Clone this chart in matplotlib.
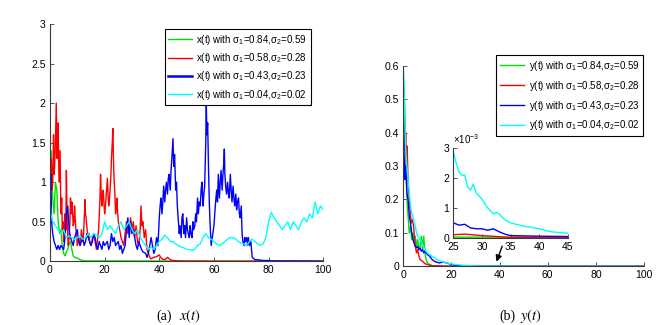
import matplotlib
matplotlib.use("Agg")
import matplotlib.pyplot as plt
import numpy as np

plt.rcParams['font.family'] = ['Liberation Sans', 'DejaVu Sans']
plt.rcParams['mathtext.fontset'] = 'custom'
plt.rcParams['mathtext.rm'] = 'Liberation Sans'
plt.rcParams['mathtext.it'] = 'Liberation Sans:italic'

# ---- x(t) paths, (t, value) ----
x_green = [(0, 0.6), (0.3, 1.4), (0.6, 1.1), (1, 0.8), (1.5, 0.6), (2, 1.0), (2.5, 0.9), (3, 0.5), (3.5, 0.35),
           (4, 0.4), (4.5, 0.2), (5, 0.1), (5.5, 0.07), (6, 0.12), (6.5, 0.15), (7, 0.22), (7.5, 0.25),
           (8, 0.15), (8.5, 0.07), (9, 0.05), (10, 0.04), (11, 0.02), (12, 0.01), (13, 0.005), (100, 0.0)]

x_red = [(0, 0.8), (0.3, 1.1), (0.5, 1.3), (0.8, 0.9), (1, 1.0), (1.3, 1.6), (1.5, 1.1), (1.7, 1.2), (2, 1.5),
         (2.3, 2.0), (2.6, 1.3), (2.8, 1.5), (3, 1.75), (3.3, 1.0), (3.5, 1.2), (3.7, 1.4), (4, 0.6), (4.3, 0.8),
         (4.5, 0.4), (4.8, 0.5), (5, 0.25), (5.3, 0.35), (5.5, 0.6), (5.8, 0.4), (6, 1.15), (6.3, 0.5),
         (6.5, 0.3), (6.7, 0.2), (7, 0.3), (7.3, 0.5), (7.5, 0.8), (7.8, 0.6), (8, 0.75), (8.3, 0.6),
         (8.5, 0.45), (8.8, 0.5), (9, 0.7), (9.3, 0.5), (9.5, 0.4), (9.8, 0.3), (10, 0.2), (10.3, 0.25),
         (10.5, 0.3), (11, 0.2), (11.3, 0.3), (11.5, 0.4), (12, 0.25), (12.3, 0.35), (12.5, 0.5), (12.8, 0.78),
         (13, 0.6), (13.2, 0.55), (13.6, 0.4), (14, 0.3), (14.3, 0.35), (14.5, 0.25), (15, 0.2), (15.5, 0.28),
         (16, 0.35), (16.5, 0.25), (17, 0.15), (17.5, 0.3), (17.8, 0.4), (18, 0.55), (18.3, 0.8), (18.5, 1.1),
         (18.8, 0.8), (19, 0.7), (19.3, 0.85), (19.5, 0.9), (19.8, 0.7), (20, 0.6), (20.3, 0.7), (20.5, 0.8),
         (20.8, 0.95), (21, 1.05), (21.3, 0.8), (21.5, 0.7), (21.8, 0.8), (22, 0.9), (22.3, 1.1), (22.5, 1.3),
         (22.8, 1.5), (23, 1.68), (23.3, 1.2), (23.5, 1.0), (23.7, 0.9), (24, 0.6), (24.3, 0.7), (24.5, 0.8),
         (24.8, 0.6), (25, 0.5), (25.5, 0.4), (26, 0.3), (26.5, 0.25), (27, 0.2), (27.5, 0.35), (28, 0.5),
         (28.5, 0.35), (29, 0.4), (29.5, 0.55), (30, 0.4), (30.5, 0.5), (31, 0.3), (31.5, 0.45), (32, 0.25),
         (32.5, 0.2), (33, 0.4), (33.3, 0.7), (33.7, 0.45), (34, 0.5), (34.5, 0.3), (35, 0.4), (35.5, 0.15),
         (36, 0.1), (36.5, 0.05), (37, 0.03), (38, 0.05), (39, 0.06), (40, 0.08), (40.5, 0.05), (41, 0.03),
         (42, 0.02), (43, 0.05), (44, 0.02), (45, 0.01), (47, 0.005), (50, 0.003), (60, 0.002), (100, 0.001)]

x_blue = [(0, 0.8), (0.3, 1.1), (0.6, 0.5), (1, 0.35), (1.5, 0.25), (2, 0.2), (2.5, 0.15), (3, 0.2), (3.5, 0.15),
          (4, 0.2), (5, 0.15), (5.5, 0.3), (6, 0.6), (6.5, 0.7), (7, 0.4), (7.5, 0.3), (8, 0.25), (8.5, 0.2),
          (9, 0.3), (9.5, 0.35), (10, 0.4), (10.5, 0.25), (11, 0.2), (12, 0.3), (12.5, 0.2), (13, 0.25),
          (13.5, 0.35), (14, 0.3), (15, 0.2), (15.5, 0.25), (16, 0.35), (16.5, 0.3), (17, 0.2), (17.5, 0.15),
          (18, 0.25), (18.5, 0.2), (19, 0.15), (19.5, 0.25), (20, 0.2), (21, 0.25), (21.5, 0.15), (22, 0.2),
          (22.5, 0.35), (23, 0.25), (23.5, 0.3), (24, 0.2), (25, 0.25), (25.5, 0.15), (26, 0.2), (26.5, 0.1),
          (27, 0.15), (27.5, 0.2), (28, 0.4), (28.5, 0.55), (29, 0.3), (29.5, 0.5), (30, 0.35), (30.5, 0.4),
          (31, 0.3), (31.5, 0.2), (32, 0.15), (32.5, 0.25), (33, 0.2), (33.5, 0.15), (34, 0.12), (35, 0.1),
          (35.5, 0.05), (36, 0.1), (36.5, 0.2), (37, 0.3), (37.5, 0.2), (38, 0.1), (38.5, 0.15), (39, 0.3),
          (39.5, 0.2), (40, 0.55), (40.3, 0.7), (40.6, 0.8), (41, 0.6), (41.3, 0.75), (41.6, 0.95), (42, 0.75),
          (42.3, 0.9), (42.6, 1.0), (43, 0.85), (43.3, 1.05), (43.6, 1.1), (44, 0.9), (44.3, 1.15), (44.6, 1.3),
          (45, 1.55), (45.3, 1.2), (45.6, 1.35), (46, 0.9), (46.3, 1.0), (46.6, 0.7), (47, 0.5), (47.3, 0.35),
          (47.6, 0.45), (48, 0.3), (48.3, 0.55), (48.6, 0.6), (49, 0.35), (49.3, 0.45), (49.6, 0.3), (50, 0.55),
          (50.3, 0.4), (50.6, 0.35), (51, 0.3), (51.3, 0.45), (51.6, 0.35), (52, 0.3), (52.3, 0.5), (52.6, 0.4),
          (53, 0.45), (53.3, 0.6), (53.6, 0.5), (54, 0.8), (54.3, 0.6), (54.6, 0.75), (55, 0.7), (55.3, 0.9),
          (55.6, 1.0), (56, 0.7), (56.3, 0.85), (56.6, 0.95), (57, 1.5), (57.2, 2.0), (57.4, 1.6), (57.7, 1.75),
          (58, 1.2), (58.3, 0.75), (58.6, 0.45), (59, 0.2), (59.3, 0.28), (59.6, 0.35), (60, 0.45), (60.3, 0.6),
          (60.6, 0.75), (61, 0.9), (61.3, 0.75), (61.6, 1.1), (62, 0.8), (62.3, 1.0), (62.6, 1.15), (63, 0.9),
          (63.3, 1.1), (63.6, 1.25), (63.8, 1.42), (64, 1.1), (64.3, 0.95), (64.6, 0.85), (65, 1.0), (65.3, 0.85),
          (65.6, 0.8), (66, 1.1), (66.3, 0.9), (66.6, 0.75), (67, 0.95), (67.3, 0.8), (67.6, 0.7), (68, 0.85),
          (68.3, 0.65), (68.6, 0.75), (69, 0.8), (69.3, 0.6), (69.6, 0.55), (70, 0.7), (70.3, 0.35), (70.6, 0.25),
          (71, 0.2), (71.3, 0.3), (71.6, 0.25), (72, 0.3), (72.3, 0.2), (72.6, 0.3), (73, 0.2), (73.5, 0.25),
          (74, 0.05), (75, 0.02), (76, 0.02), (78, 0.01), (80, 0.01), (81, 0.005), (90, 0.003), (100, 0.002)]

x_cyan = [(0, 0.8), (0.3, 0.6), (1, 0.5), (2, 0.45), (3, 0.4), (4, 0.35), (5, 0.4), (6, 0.3), (7, 0.32), (8, 0.3),
          (9, 0.28), (10, 0.3), (11, 0.32), (12, 0.28), (13, 0.3), (14, 0.35), (15, 0.3), (16, 0.35), (17, 0.33),
          (18, 0.3), (19, 0.35), (20, 0.5), (21, 0.4), (22, 0.45), (23, 0.4), (24, 0.35), (25, 0.45), (26, 0.5),
          (27, 0.4), (28, 0.45), (29, 0.5), (30, 0.4), (31, 0.35), (32, 0.4), (33, 0.3), (34, 0.25), (35, 0.2),
          (36, 0.15), (37, 0.18), (38, 0.15), (39, 0.2), (40, 0.25), (41, 0.28), (42, 0.33), (43, 0.3), (44, 0.25),
          (45, 0.25), (46, 0.22), (47, 0.2), (48, 0.18), (49, 0.17), (50, 0.15), (51, 0.15), (52, 0.14), (53, 0.15),
          (54, 0.2), (55, 0.22), (56, 0.3), (57, 0.35), (58, 0.3), (59, 0.28), (60, 0.25), (61, 0.22), (62, 0.2),
          (63, 0.22), (64, 0.25), (65, 0.28), (66, 0.3), (67, 0.3), (68, 0.28), (69, 0.25), (70, 0.23), (71, 0.22),
          (72, 0.2), (73, 0.25), (74, 0.28), (75, 0.25), (76, 0.22), (77, 0.2), (78, 0.22), (79, 0.3), (80, 0.5),
          (81, 0.62), (82, 0.55), (83, 0.5), (84, 0.45), (85, 0.4), (86, 0.45), (87, 0.5), (88, 0.4), (89, 0.5),
          (90, 0.45), (91, 0.4), (92, 0.5), (93, 0.55), (94, 0.5), (95, 0.6), (96, 0.55), (97, 0.75), (98, 0.6),
          (99, 0.7), (100, 0.65)]

# ---- y(t) paths ----
y_green = [(0, 0.45), (0.3, 0.54), (0.7, 0.45), (1, 0.35), (1.5, 0.2), (2, 0.15), (2.5, 0.1), (3, 0.12),
           (3.5, 0.08), (4, 0.1), (4.5, 0.07), (5, 0.09), (5.5, 0.06), (6, 0.08), (6.5, 0.05), (7, 0.06),
           (7.5, 0.09), (8, 0.05), (8.5, 0.09), (9, 0.04), (9.5, 0.02), (10, 0.01), (11, 0.005), (12, 0.002),
           (15, 0.0005), (20, 0.00003), (25, 0.00002), (45, 0.00001), (100, 0.0)]

y_red = [(0, 0.3), (0.3, 0.49), (0.7, 0.35), (1, 0.4), (1.3, 0.3), (1.6, 0.36), (2, 0.25), (2.5, 0.2), (3, 0.15),
         (3.5, 0.13), (4, 0.14), (4.5, 0.1), (5, 0.06), (5.5, 0.04), (6, 0.05), (6.5, 0.03), (7, 0.02), (8, 0.015),
         (9, 0.008), (10, 0.005), (12, 0.002), (15, 0.001), (20, 0.0003), (25, 0.0001), (27, 0.00012),
         (30, 0.00007), (35, 0.00001), (100, 0.0)]

y_blue = [(0, 0.45), (0.3, 0.35), (0.6, 0.26), (1, 0.3), (1.5, 0.22), (2, 0.2), (2.5, 0.15), (3, 0.13), (3.5, 0.1),
          (4, 0.08), (4.5, 0.07), (5, 0.06), (5.5, 0.055), (6, 0.06), (6.5, 0.05), (7, 0.055), (7.5, 0.045),
          (8, 0.05), (8.5, 0.04), (9, 0.045), (10, 0.035), (11, 0.03), (12, 0.02), (13, 0.015), (14, 0.012),
          (15, 0.01), (16, 0.012), (17, 0.012), (18, 0.01), (19, 0.008), (20, 0.005), (22, 0.003), (25, 0.0005),
          (26, 0.00042), (27, 0.00045), (28, 0.00033), (29, 0.0003), (30, 0.0003), (31, 0.00025), (32, 0.0003),
          (33, 0.0002), (34, 0.00012), (35, 0.00007), (40, 0.00005), (45, 0.00004), (100, 0.0)]

y_cyan = [(0, 0.6), (0.3, 0.55), (0.6, 0.45), (1, 0.35), (1.5, 0.3), (2, 0.26), (2.5, 0.22), (3, 0.18), (3.5, 0.16),
          (4, 0.15), (4.5, 0.13), (5, 0.12), (5.5, 0.1), (6, 0.09), (7, 0.08), (8, 0.065), (9, 0.05), (10, 0.04),
          (11, 0.035), (12, 0.03), (13, 0.025), (14, 0.02), (15, 0.017), (16, 0.014), (18, 0.01), (20, 0.007),
          (22, 0.005), (25, 0.0029), (25.5, 0.0025), (26, 0.0022), (26.5, 0.0021), (27, 0.0021), (27.5, 0.0017),
          (28, 0.0016), (28.5, 0.0018), (29, 0.0015), (29.5, 0.0014), (30, 0.0013), (31, 0.001), (32, 0.0008),
          (32.5, 0.00085), (33, 0.0008), (34, 0.0006), (35, 0.0005), (37, 0.0004), (40, 0.0003), (42, 0.0002),
          (45, 0.00015), (50, 0.0001), (100, 0.00001)]

sig1 = ['0.84', '0.58', '0.43', '0.04']
sig2 = ['0.59', '0.28', '0.23', '0.02']
colors = ['#00e000', '#ff0000', '#0000ff', '#00ffff']
leg_lw = [1.0, 1.0, 1.8, 1.0]

x_ticks = [0, 20, 40, 60, 80, 100]
xl_yticks = [0, 0.5, 1, 1.5, 2, 2.5, 3]
yl_yticks = [0, 0.1, 0.2, 0.3, 0.4, 0.5, 0.6]
in_xticks = [25, 30, 35, 40, 45]
in_yticks = [0, 1e-3, 2e-3, 3e-3]


def style(ax, fs=7.5):
  for s in ['top', 'right']:
    ax.spines[s].set_visible(False)
  for s in ['left', 'bottom']:
    ax.spines[s].set_color('#3a3a3a')
    ax.spines[s].set_linewidth(0.8)
  ax.tick_params(direction='in', length=3, width=0.6, color='#3a3a3a', labelsize=fs, pad=3)


def draw(ax, path, **kw):
  t, v = zip(*path)
  return ax.plot(t, v, **kw)


fig = plt.figure(figsize=(6.69, 3.25), dpi=100)

ax1 = fig.add_axes([0.0747, 0.196, 0.4085, 0.730])
for i, p in enumerate([x_green, x_red, x_blue, x_cyan]):
  draw(ax1, p, color=colors[i], lw=1.0, label='x(t) with σ$_1$=%s,σ$_2$=%s' % (sig1[i], sig2[i]))
ax1.set_xlim(0, 100)
ax1.set_ylim(0, 3)
ax1.set_xticks(x_ticks)
ax1.set_yticks(xl_yticks)
ax1.set_yticklabels(['0', '0.5', '1', '1.5', '2', '2.5', '3'])
style(ax1)
leg = ax1.legend(loc='upper right', bbox_to_anchor=(0.4644, 0.9098), bbox_transform=fig.transFigure,
                 fontsize=7, fancybox=False, edgecolor='black', framealpha=1, handlelength=2.4,
                 labelspacing=0.45, borderpad=0.35, handletextpad=0.5, borderaxespad=0)
leg.get_frame().set_linewidth(0.8)
for i, l in enumerate(leg.get_lines()):
  l.set_linewidth(leg_lw[i])

ys = [y_green, y_red, y_blue, y_cyan]
ax2 = fig.add_axes([0.6028, 0.1806, 0.3598, 0.617])
for i, p in enumerate(ys):
  draw(ax2, p, color=colors[i], lw=1.0, label='y(t) with σ$_1$=%s,σ$_2$=%s' % (sig1[i], sig2[i]))
ax2.set_xlim(0, 100)
ax2.set_ylim(0, 0.6)
ax2.set_xticks(x_ticks)
ax2.set_yticks(yl_yticks)
ax2.set_yticklabels(['0', '0.1', '0.2', '0.3', '0.4', '0.5', '0.6'])
style(ax2)
leg2 = ax2.legend(loc='upper right', bbox_to_anchor=(0.9616, 0.8308), bbox_transform=fig.transFigure,
                  fontsize=7, fancybox=False, edgecolor='black', framealpha=1, handlelength=2.4,
                  labelspacing=0.6, borderpad=0.4, handletextpad=0.5, borderaxespad=0)
leg2.get_frame().set_linewidth(0.8)

ax2.annotate('', xy=(38.3, 0.006), xytext=(41.5, 0.068),
             arrowprops=dict(arrowstyle='-|>', color='black', lw=1.0, mutation_scale=9))

ax3 = fig.add_axes([0.6776, 0.2686, 0.171, 0.275])
for i, p in enumerate(ys):
  draw(ax3, p, color=colors[i], lw=1.0)
ax3.set_xlim(25, 45)
ax3.set_ylim(0, 3e-3)
ax3.set_xticks(in_xticks)
ax3.set_yticks(in_yticks)
ax3.set_yticklabels(['0', '1', '2', '3'])
style(ax3)
ax3.text(0.0, 1.03, r'$\times10^{-3}$', transform=ax3.transAxes, fontsize=7, ha='left', va='bottom')

fig.text(172 / 669, 0.028, '(a)', fontsize=10, family='Liberation Serif', ha='right', va='center')
fig.text(179 / 669, 0.028, r'$x(t)$', fontsize=10.5, math_fontfamily='stix', ha='left', va='center')
fig.text(515 / 669, 0.028, '(b)', fontsize=10, family='Liberation Serif', ha='right', va='center')
fig.text(520 / 669, 0.028, r'$y(t)$', fontsize=10.5, math_fontfamily='stix', ha='left', va='center')

fig.savefig('out.png', dpi=100)
